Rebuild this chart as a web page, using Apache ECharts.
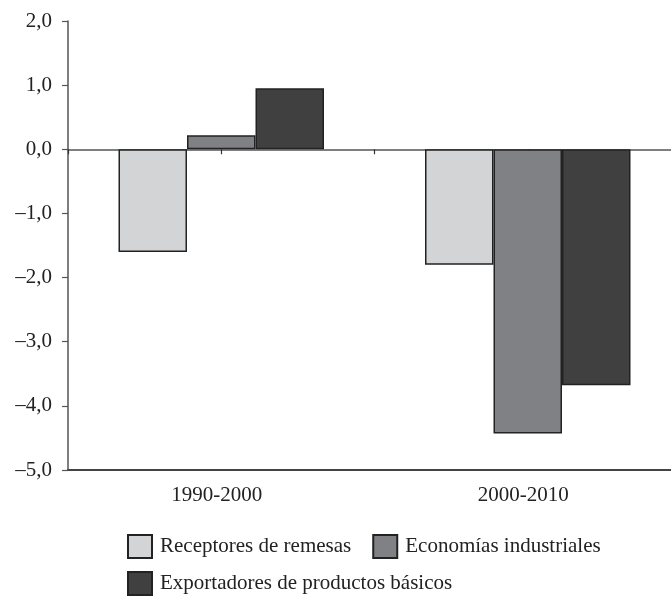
<!DOCTYPE html>
<html><head><meta charset="utf-8">
<script src="https://cdn.jsdelivr.net/npm/echarts@6/dist/echarts.min.js"></script>
<style>html,body{margin:0;padding:0;background:#fff}#c{width:671px;height:598px}</style>
</head><body><div id="c"></div>
<script>
const categories = ['1990-2000', '2000-2010'];
const seriesNames = ['Receptores de remesas', 'Economías industriales', 'Exportadores de productos básicos'];
const receptores = [-1.6, -1.8];
const economias = [0.22, -4.43];
const exportadores = [0.95, -3.68];
const yMin = -5, yMax = 2, yStep = 1;
const colors = ['#d3d4d6', '#808184', '#404040'];
const FONT = 'Liberation Serif';

const fmt = v => (v < 0 ? '\u2013' : '') + Math.abs(v).toFixed(1).replace('.', ',');
const mk = (name, data, i) => ({
  name, type: 'bar', data, xAxisIndex: 0, barWidth: 68.5, barGap: '0%',
  itemStyle: {color: colors[i], borderColor: '#222', borderWidth: 1.5},
  emphasis: {disabled: true}
});
const legendBase = {
  itemWidth: 24, itemHeight: 23, icon: 'rect',
  textStyle: {fontFamily: FONT, fontSize: 21, color: '#222', padding: [0, 0, 0, 3]}
};
const chart = echarts.init(document.getElementById('c'), null, {renderer: 'canvas'});
chart.setOption({
  animation: false,
  backgroundColor: '#fff',
  textStyle: {fontFamily: FONT},
  grid: {left: 68, top: 21, width: 613, height: 449, containLabel: false, outerBoundsMode: 'none'},
  legend: [
    Object.assign({}, legendBase, {left: 122, top: 529, itemGap: 21, data: seriesNames.slice(0, 2)}),
    Object.assign({}, legendBase, {left: 122, top: 566, itemGap: 21, data: seriesNames.slice(2)})
  ],
  xAxis: [
    {type: 'category', data: categories, position: 'bottom',
     axisLine: {onZero: false, lineStyle: {color: '#444', width: 2}},
     axisTick: {show: false},
     axisLabel: {fontFamily: FONT, fontSize: 21, color: '#222', margin: 15, padding: [0, 9, 0, 0]},
     splitLine: {show: false}},
    {type: 'category', data: categories, position: 'bottom',
     axisLine: {onZero: true, onZeroAxisIndex: 0, lineStyle: {color: '#555', width: 1.5}},
     axisTick: {show: true, length: 5, lineStyle: {color: '#333', width: 1.2}},
     axisLabel: {show: false}, splitLine: {show: false}},
    {type: 'category', data: categories, position: 'bottom',
     axisLine: {show: false, onZero: true, onZeroAxisIndex: 0},
     axisTick: {show: true, alignWithLabel: true, length: 5, lineStyle: {color: '#333', width: 1.2}},
     axisLabel: {show: false}, splitLine: {show: false}}
  ],
  yAxis: {
    type: 'value', min: yMin, max: yMax, interval: yStep,
    axisLine: {show: true, lineStyle: {color: '#555', width: 1.5}},
    axisTick: {show: true, length: 6, lineStyle: {color: '#555', width: 1.2}},
    axisLabel: {formatter: fmt, fontFamily: FONT, fontSize: 21, color: '#222', margin: 16},
    splitLine: {show: false}
  },
  series: [mk(seriesNames[0], receptores, 0), mk(seriesNames[1], economias, 1), mk(seriesNames[2], exportadores, 2)]
});
</script></body></html>
